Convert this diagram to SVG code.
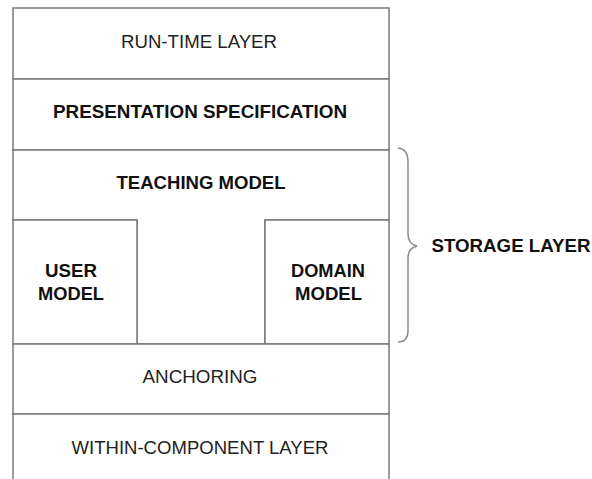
<svg xmlns="http://www.w3.org/2000/svg" width="592" height="479" viewBox="0 0 592 479">
<style>
.box{fill:#fff;stroke:#7a7a7a;stroke-width:1.5}
.t{font-family:"Liberation Sans",Arial,sans-serif;font-size:18px;fill:#222;text-anchor:middle}
.b{font-weight:bold;fill:#111}
.brace{fill:none;stroke:#8a8a8a;stroke-width:1.5}
</style>
<rect width="592" height="479" fill="#fff"/>
<g id="run-time-layer">
<rect class="box" x="13" y="8" width="376" height="71"/>
<text class="t" x="199" y="48" textLength="156" lengthAdjust="spacingAndGlyphs">RUN-TIME LAYER</text>
</g>
<g id="presentation-specification">
<rect class="box" x="13" y="79" width="376" height="71"/>
<text class="t b" x="200" y="118" textLength="294" lengthAdjust="spacingAndGlyphs">PRESENTATION SPECIFICATION</text>
</g>
<g id="teaching-model">
<path class="box" d="M13,150 H389 V220 H265 V344 H137 V220 H13 Z"/>
<text class="t b" x="201" y="189" textLength="169" lengthAdjust="spacingAndGlyphs">TEACHING MODEL</text>
</g>
<g id="user-model">
<rect class="box" x="13" y="220" width="124" height="124"/>
<text class="t b" x="71" y="277" textLength="52" lengthAdjust="spacingAndGlyphs">USER</text>
<text class="t b" x="71" y="300" textLength="66" lengthAdjust="spacingAndGlyphs">MODEL</text>
</g>
<g id="domain-model">
<rect class="box" x="265" y="220" width="124" height="124"/>
<text class="t b" x="328" y="277" textLength="74" lengthAdjust="spacingAndGlyphs">DOMAIN</text>
<text class="t b" x="328.5" y="300" textLength="67" lengthAdjust="spacingAndGlyphs">MODEL</text>
</g>
<g id="anchoring">
<rect class="box" x="13" y="344" width="376" height="70"/>
<text class="t" x="200" y="383" textLength="115" lengthAdjust="spacingAndGlyphs">ANCHORING</text>
</g>
<g id="within-component-layer">
<path class="box" d="M13,490 V414 H389 V490"/>
<text class="t" x="200" y="454" textLength="257" lengthAdjust="spacingAndGlyphs">WITHIN-COMPONENT LAYER</text>
</g>
<g id="connectors">
<path class="brace" d="M398,148 Q408,149 408,162 V234 Q408,244 417,246 Q408,248 408,258 V330 Q408,342 398,342"/>
</g>
<g id="storage-layer">
<text class="t b" x="511" y="252" textLength="159" lengthAdjust="spacingAndGlyphs">STORAGE LAYER</text>
</g>
</svg>
